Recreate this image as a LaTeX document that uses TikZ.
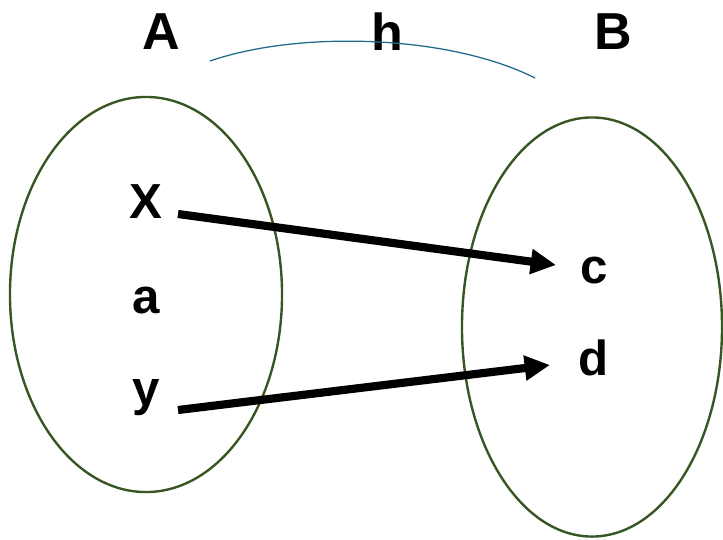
\documentclass[tikz,border=0pt]{standalone}
\usepackage{fontspec}
\setmainfont{Liberation Sans}
\usepackage{xcolor}
\usetikzlibrary{shapes.geometric, arrows.meta, positioning}
\definecolor{cSet}{HTML}{375623}
\definecolor{cArc}{HTML}{1F6A8A}
\definecolor{cEdge}{HTML}{000000}

\begin{document}
\begin{tikzpicture}[x=0.025cm, y=-0.025cm,
  every node/.style={font=\fontsize{35}{40}\selectfont\bfseries, inner sep=0pt},
  setshape/.style={draw=cSet, line width=1.7pt, ellipse, inner sep=0pt},
  title/.style={font=\fontsize{37}{44}\selectfont\bfseries},
  ar/.style={-{Triangle[length=18pt, width=17pt]}, line width=5.8pt, draw=cEdge}
]
\useasboundingbox (0,0) rectangle (723,539);

% the two sets
\node[setshape, minimum width=6.8cm, minimum height=9.875cm] (setA) at (146,294.5) {};
\node[setshape, minimum width=6.5cm, minimum height=10.475cm] (setB) at (592,327) {};

% titles
\node[title] (lblA) at (161,32) {A};
\node[title] (lblh) at (387,32) {h};
\node[title] (lblB) at (613,32) {B};

% elements
\node (x) at (146,202) {X};
\node (a) at (146,300) {a};
\node (y) at (146,398) {y};
\node (c) at (594,270) {c};
\node (d) at (594,358) {d};

% arrow ends
\coordinate (xout) at (178,214);
\coordinate (cin) at (556,265);
\coordinate (yout) at (178,410);
\coordinate (din) at (550,365);
\coordinate (arcL) at (210,61);
\coordinate (arcR) at (535,78);

\draw[cArc, line width=0.9pt] (arcL) .. controls (300,30) and (450,35) .. (arcR);

\draw[ar] (xout) -- (cin);
\draw[ar] (yout) -- (din);
\end{tikzpicture}
\end{document}
